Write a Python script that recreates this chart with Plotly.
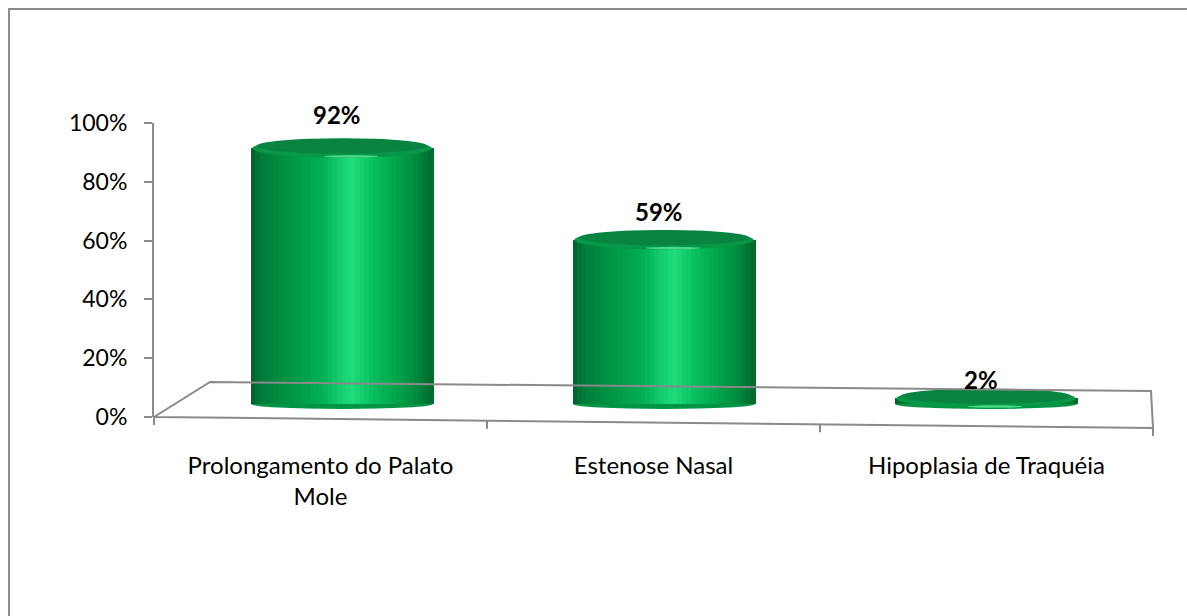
import plotly.graph_objects as go

# ---- data ----
categories = ["Prolongamento do Palato<br>Mole", "Estenose Nasal", "Hipoplasia de Traquéia"]
values = [0.92, 0.59, 0.02]
y_ticks = [0, 0.2, 0.4, 0.6, 0.8, 1.0]

# ---- geometry of the figure ----
W, H = 1187, 616
L, R, T, B = 154, 34, 123, 199
plot_w = W - L - R          # 999
plot_h = H - T - B          # 294

# bar axis: y2 has 0 slightly above the floor front edge, px per unit
px_per_unit = 278.0
zero_off = 13.0
y2_lo = -zero_off / px_per_unit
y2_hi = y2_lo + plot_h / px_per_unit

# bar x axis (bars sit on the middle depth of the floor)
x2_range = [-0.584, 2.519]

bar_w = 0.565
n_slices = 40

# horizontal shading of a cylinder: dark edges, bright band right of center
stops = [
    (0.00, (0, 92, 40)),
    (0.05, (0, 122, 56)),
    (0.20, (0, 146, 67)),
    (0.40, (4, 176, 88)),
    (0.50, (24, 208, 114)),
    (0.56, (32, 220, 124)),
    (0.66, (10, 194, 98)),
    (0.80, (0, 164, 74)),
    (0.92, (0, 134, 60)),
    (1.00, (0, 104, 46)),
]


def shade(t):
    for (t0, c0), (t1, c1) in zip(stops[:-1], stops[1:]):
        if t0 <= t <= t1:
            f = (t - t0) / (t1 - t0) if t1 > t0 else 0
            r, g, b = (round(a + (bb - a) * f) for a, bb in zip(c0, c1))
            return f"rgb({r},{g},{b})"
    return "rgb(0,104,46)"


fig = go.Figure()

# anchor trace for the category axis
fig.add_trace(go.Scatter(x=[0, 1, 2], y=[0, 0, 0], mode="none",
                         hoverinfo="skip", showlegend=False))

slice_w = bar_w / n_slices
xs = list(range(len(values)))
for i in range(n_slices):
    t = (i + 0.5) / n_slices
    fig.add_trace(go.Bar(
        x=xs, y=values, xaxis="x2", yaxis="y2",
        width=slice_w * 1.25, offset=-bar_w / 2 + i * slice_w - slice_w * 0.1,
        marker=dict(color=shade(t), line=dict(width=0)),
        hoverinfo="skip", showlegend=False,
    ))

shapes = []
top_h = 9.5 / px_per_unit
base_h = 5.0 / px_per_unit
for xi, v in zip(xs, values):
    # rounded base of the cylinder
    shapes.append(dict(type="circle", xref="x2", yref="y2", layer="below",
                       x0=xi - bar_w / 2, x1=xi + bar_w / 2,
                       y0=-base_h, y1=base_h,
                       fillcolor="rgb(0,150,70)", line=dict(width=0)))
    # top face with its rounded rim
    shapes.append(dict(type="circle", xref="x2", yref="y2",
                       x0=xi - bar_w / 2 * 0.985, x1=xi + bar_w / 2 * 0.985,
                       y0=v - top_h, y1=v + top_h,
                       fillcolor="rgb(8,150,72)", line=dict(width=0)))
    shapes.append(dict(type="circle", xref="x2", yref="y2",
                       x0=xi - bar_w / 2 * 0.94, x1=xi + bar_w / 2 * 0.94,
                       y0=v - top_h * 0.55, y1=v + top_h * 1.05,
                       fillcolor="rgb(8,132,64)", line=dict(width=0)))
    # specular highlight along the front rim
    shapes.append(dict(type="circle", xref="x2", yref="y2",
                       x0=xi - bar_w * 0.10, x1=xi + bar_w * 0.20,
                       y0=v - top_h * 0.98, y1=v - top_h * 0.72,
                       fillcolor="rgba(110,250,170,0.65)", line=dict(width=0)))


def px_to_paper(px, py):
    return (px - L) / plot_w, (H - B - py) / plot_h


grey = "#8a8a8a"
# floor of the 3D plot area
fl = [px_to_paper(154, 417), px_to_paper(210, 382), px_to_paper(1151, 391),
      px_to_paper(1153, 428), px_to_paper(154, 417)]
path = "M " + " L ".join(f"{x:.4f},{y:.4f}" for x, y in fl)
shapes.append(dict(type="path", xref="paper", yref="paper", path=path,
                   line=dict(color=grey, width=2)))
# category division ticks along the front edge
for fx in [0.0, 1 / 3, 2 / 3, 1.0]:
    px = L + fx * plot_w
    py = 417 + 11 * fx
    x0, y0 = px_to_paper(px, py)
    _, y1 = px_to_paper(px, py + 8)
    shapes.append(dict(type="line", xref="paper", yref="paper",
                       x0=x0, x1=x0, y0=y0, y1=y1,
                       line=dict(color=grey, width=2)))

# chart area border (left and top edges)
bx0, by0 = px_to_paper(9, 616)
bx1, by1 = px_to_paper(1187, 9)
shapes.append(dict(type="path", xref="paper", yref="paper",
                   path=f"M {bx0:.4f},{by0:.4f} L {bx0:.4f},{by1:.4f} L {bx1:.4f},{by1:.4f}",
                   line=dict(color=grey, width=2)))

# value labels follow the front-face scale of the percentage axis
annotations = []
for xi, v in zip(xs, values):
    annotations.append(dict(x=xi, y=v, xref="x2", yref="y",
                            text=f"<b>{v:.0%}</b>", showarrow=False,
                            xshift=-5, yshift=32, yanchor="middle",
                            font=dict(family="Lato", size=24, color="black")))

fig.update_layout(
    width=W, height=H, autosize=False,
    margin=dict(l=L, r=R, t=T, b=B, pad=0),
    paper_bgcolor="white", plot_bgcolor="rgba(0,0,0,0)",
    barmode="overlay", bargap=0,
    font=dict(family="Lato", size=23, color="black"),
    xaxis=dict(range=[-0.5, 2.5], tickvals=[0, 1, 2], ticktext=categories,
               showline=False, showgrid=False, zeroline=False, ticks="",
               ticklabelstandoff=32, tickfont=dict(size=24)),
    xaxis2=dict(range=x2_range, overlaying="x", visible=False),
    yaxis=dict(range=[0, 1], tickvals=y_ticks, tickformat=".0%",
               showline=True, linecolor=grey, linewidth=2,
               ticks="outside", ticklen=8, tickwidth=2, tickcolor=grey,
               showgrid=False, zeroline=False, ticklabelstandoff=12,
               tickfont=dict(size=23)),
    yaxis2=dict(range=[y2_lo, y2_hi], overlaying="y", visible=False),
    shapes=shapes,
    annotations=annotations,
    showlegend=False,
)

fig.write_html("out.html")
